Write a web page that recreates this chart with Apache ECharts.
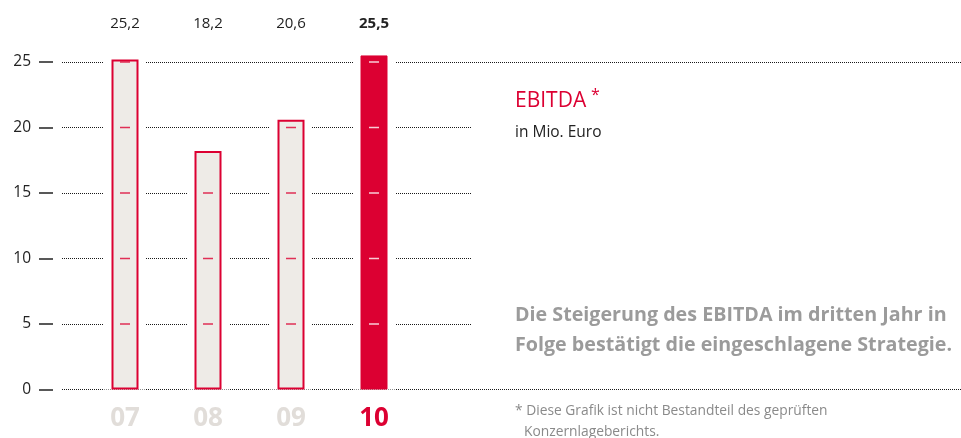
<!DOCTYPE html>
<html>
<head>
<meta charset="utf-8">
<script src="https://cdn.jsdelivr.net/npm/echarts@6/dist/echarts.min.js"></script>
<style>
  html, body { margin: 0; padding: 0; background: #fff; }
  #chart { width: 961px; height: 438px; }
</style>
</head>
<body>
<div id="chart"></div>
<script>
// EBITDA in Mio. Euro, Geschäftsjahre 2007–2010
const years = ['07', '08', '09', '10'];
const ebitda = [25.2, 18.2, 20.6, 25.5];
const yTicks = [0, 5, 10, 15, 20, 25];

const RED = '#dc0032';
const BAR_GREY = '#eeebe7';
const YEAR_GREY = '#e1ddd9';
const FONT = '"Open Sans", "Noto Sans", sans-serif';
const last = years.length - 1;

const fmt = v => v.toFixed(1).replace('.', ',');

// short scale marks inside each bar, at every tick the bar reaches
const marks = [];
ebitda.forEach((v, i) => {
  yTicks.forEach(t => {
    if (t > 0 && t <= v) {
      marks.push({ value: [i, t], itemStyle: { color: i === last ? '#ffffff' : RED } });
    }
  });
});

const dotted = { color: '#1a1a1a', width: 1, type: [1, 1] };
const TOP = 62, BOTTOM = 48.5;
const Y_MIN = yTicks[0], Y_MAX = yTicks[yTicks.length - 1], Y_STEP = yTicks[1] - yTicks[0];

const option = {
  animation: false,
  backgroundColor: '#fff',
  grid: [
    // bars
    { left: 83.5, width: 332, top: TOP, bottom: BOTTOM },
    // guide lines for the scale steps
    { left: 62, width: 409, top: TOP, bottom: BOTTOM },
    // zero line and top line across the full width
    { left: 62, right: 0, top: TOP, bottom: BOTTOM },
    // scale labels and tick marks
    { left: 53, width: 1, top: TOP, bottom: BOTTOM }
  ],
  xAxis: [
    {
      type: 'category', gridIndex: 0, data: years,
      axisLine: { show: false }, axisTick: { show: false },
      axisLabel: {
        margin: 16,
        formatter: (v, i) => (i === last ? '{hl|' + v + '}' : '{n|' + v + '}'),
        rich: {
          n: { fontFamily: FONT, fontWeight: 'bold', fontSize: 26, color: YEAR_GREY },
          hl: { fontFamily: FONT, fontWeight: 'bold', fontSize: 26, color: RED }
        }
      }
    },
    {
      type: 'category', gridIndex: 0, position: 'top', data: years,
      axisLine: { show: false }, axisTick: { show: false },
      axisLabel: {
        margin: 31,
        formatter: (v, i) => (i === last ? '{b|' + fmt(ebitda[i]) + '}' : '{n|' + fmt(ebitda[i]) + '}'),
        rich: {
          n: { fontFamily: FONT, fontSize: 15, color: '#222' },
          b: { fontFamily: FONT, fontSize: 15, fontWeight: 'bold', color: '#222' }
        }
      }
    },
    { type: 'value', gridIndex: 1, show: false, min: 0, max: 1 },
    { type: 'value', gridIndex: 2, show: false, min: 0, max: 1 },
    { type: 'value', gridIndex: 3, show: false, min: 0, max: 1 }
  ],
  yAxis: [
    { type: 'value', gridIndex: 0, min: Y_MIN, max: Y_MAX, interval: Y_STEP, show: false },
    {
      type: 'value', gridIndex: 1, min: Y_MIN, max: Y_MAX, interval: Y_STEP,
      axisLine: { show: false }, axisTick: { show: false }, axisLabel: { show: false },
      splitLine: { show: true, lineStyle: dotted }
    },
    {
      type: 'value', gridIndex: 2, min: Y_MIN, max: Y_MAX, interval: Y_MAX - Y_MIN,
      axisLine: { show: false }, axisTick: { show: false }, axisLabel: { show: false },
      splitLine: { show: true, lineStyle: dotted }
    },
    {
      type: 'value', gridIndex: 3, min: Y_MIN, max: Y_MAX, interval: Y_STEP,
      axisLine: { show: false },
      axisTick: { show: true, length: 14, lineStyle: { color: '#222', width: 1.5 } },
      axisLabel: { margin: 22, fontFamily: FONT, fontSize: 15.5, color: '#222' },
      splitLine: { show: false }
    }
  ],
  series: [
    {
      // white clearance around each bar, interrupting the guide lines
      type: 'bar', xAxisIndex: 1, yAxisIndex: 0, data: ebitda,
      barWidth: 42, clip: false, silent: true, z: 2,
      itemStyle: { color: '#fff', borderColor: '#fff', borderWidth: 2 }
    },
    {
      type: 'bar', xAxisIndex: 0, yAxisIndex: 0,
      data: ebitda.map((v, i) => ({
        value: v,
        itemStyle: i === last
          ? { color: RED, borderColor: RED, borderWidth: 1 }
          : { color: BAR_GREY, borderColor: RED, borderWidth: 2 }
      })),
      barWidth: 27, clip: false, silent: true, z: 3
    },
    {
      type: 'scatter', xAxisIndex: 0, yAxisIndex: 0, data: marks,
      symbol: 'rect', symbolSize: [10, 1.5], clip: false, silent: true, z: 4
    }
  ],
  graphic: [
    { type: 'text', x: 515, y: 101, z: 10,
      style: { text: 'EBITDA', font: '21px ' + FONT, fill: RED, verticalAlign: 'middle' } },
    { type: 'text', x: 591, y: 95, z: 10,
      style: { text: '*', font: '16px ' + FONT, fill: RED, verticalAlign: 'middle' } },
    { type: 'text', x: 515, y: 133, z: 10,
      style: { text: 'in Mio. Euro', font: '15.5px ' + FONT, fill: '#222', verticalAlign: 'middle' } },
    { type: 'text', x: 515, y: 315, z: 10,
      style: { text: 'Die Steigerung des EBITDA im dritten Jahr in', font: 'bold 19.7px ' + FONT, fill: '#9b9b9b', verticalAlign: 'middle' } },
    { type: 'text', x: 515, y: 345, z: 10,
      style: { text: 'Folge bestätigt die eingeschlagene Strategie.', font: 'bold 19.7px ' + FONT, fill: '#9b9b9b', verticalAlign: 'middle' } },
    { type: 'text', x: 515, y: 411, z: 10,
      style: { text: '* Diese Grafik ist nicht Bestandteil des geprüften', font: '13.8px ' + FONT, fill: '#8a8a8a', verticalAlign: 'middle' } },
    { type: 'text', x: 524, y: 432, z: 10,
      style: { text: 'Konzernlageberichts.', font: '13.8px ' + FONT, fill: '#8a8a8a', verticalAlign: 'middle' } }
  ]
};

const chart = echarts.init(document.getElementById('chart'), null, { renderer: 'canvas' });
chart.setOption(option);
</script>
</body>
</html>
